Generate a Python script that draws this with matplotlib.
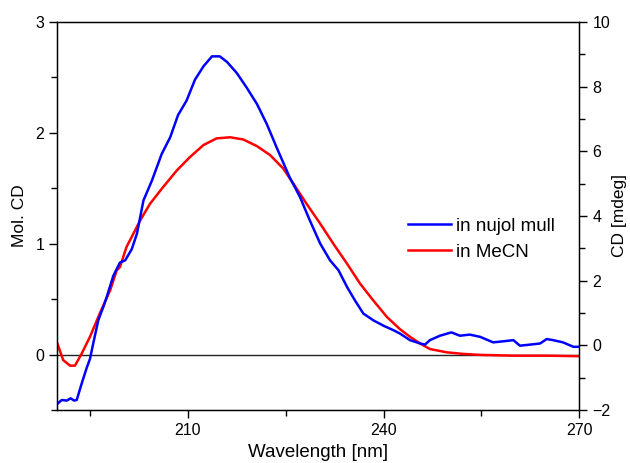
import matplotlib
matplotlib.use("Agg")
import matplotlib.pyplot as plt
from matplotlib.ticker import MultipleLocator

plt.rcParams['font.family'] = ['Liberation Sans', 'DejaVu Sans']

# Blue: in nujol mull (Mol. CD scale)
nujol_wl = [190.0, 190.67, 191.44, 192.05, 192.56, 192.97, 193.74, 194.5, 195.0, 195.5,
            196.28, 197.05, 197.57, 198.58, 199.0, 199.6, 200.4, 201.4, 202.2, 203.2,
            204.5, 206.0, 207.3, 208.5, 209.8, 211.1, 212.4, 213.7, 214.9, 216.0,
            217.5, 219.0, 220.6, 222.1, 223.6, 225.6, 227.2, 228.7, 230.3, 231.8,
            233.1, 234.4, 235.6, 236.9, 238.4, 240.0, 241.5, 242.5, 244.05, 245.6,
            246.35, 247.1, 248.65, 250.4, 251.7, 253.2, 254.8, 256.8, 258.4, 259.9,
            260.9, 262.5, 264.0, 265.0, 266.0, 267.5, 269.1, 270.0]
nujol_cd = [-0.445, -0.41, -0.415, -0.395, -0.415, -0.41, -0.26, -0.12, -0.04, 0.10,
            0.31, 0.43, 0.52, 0.71, 0.76, 0.83, 0.85, 0.95, 1.09, 1.39,
            1.57, 1.81, 1.96, 2.16, 2.29, 2.48, 2.60, 2.69, 2.69, 2.64,
            2.54, 2.41, 2.26, 2.08, 1.87, 1.60, 1.42, 1.21, 1.00, 0.85,
            0.76, 0.61, 0.49, 0.37, 0.31, 0.26, 0.22, 0.19, 0.13, 0.10,
            0.09, 0.13, 0.17, 0.20, 0.17, 0.18, 0.16, 0.11, 0.12, 0.13,
            0.08, 0.09, 0.10, 0.14, 0.13, 0.11, 0.07, 0.07]

# Red: in MeCN
mecn_wl = [190.0, 190.9, 191.95, 192.7, 193.7, 195.0, 196.5, 198.1, 199.1, 199.6,
           200.6, 202.7, 204.2, 206.2, 208.3, 210.3, 212.4, 214.4, 216.5, 218.5,
           220.6, 222.6, 224.6, 226.2, 228.2, 230.3, 232.3, 234.4, 236.4, 238.4,
           240.5, 242.5, 244.05, 245.6, 247.1, 249.7, 252.2, 254.8, 259.9, 265.0, 270.0]
mecn_cd = [0.10, -0.05, -0.10, -0.10, 0.005, 0.16, 0.37, 0.58, 0.76, 0.79,
           0.97, 1.21, 1.36, 1.51, 1.66, 1.78, 1.89, 1.95, 1.96, 1.94,
           1.88, 1.80, 1.68, 1.54, 1.36, 1.18, 1.00, 0.82, 0.64, 0.49,
           0.34, 0.23, 0.16, 0.10, 0.05, 0.02, 0.006, -0.003, -0.01, -0.01, -0.015]

x_ticks = [210, 240, 270]
left_ticks = [0, 1, 2, 3]
right_ticks = [-2, 0, 2, 4, 6, 8, 10]

fig = plt.figure(figsize=(6.30, 4.63), dpi=100)
ax = fig.add_axes([0.091, 0.1145, 0.8285, 0.838])

ax.axhline(0, color='#222222', lw=1.0, zorder=1)
ax.plot(nujol_wl, nujol_cd, color='#0000ff', lw=1.8, label='in nujol mull', zorder=3)
ax.plot(mecn_wl, mecn_cd, color='#ff0000', lw=1.8, label='in MeCN', zorder=2)

ax.set_xlim(190, 270)
ax.set_ylim(-0.5, 3)
ax.set_xticks(x_ticks)
ax.xaxis.set_minor_locator(MultipleLocator(15))
ax.set_yticks(left_ticks)
ax.yaxis.set_minor_locator(MultipleLocator(0.5))
ax.tick_params(axis='both', which='major', direction='out', length=6, width=1, labelsize=11.5, colors='black')
ax.tick_params(axis='both', which='minor', direction='out', length=4, width=1)
ax.tick_params(axis='x', which='both', top=False)
for s in ax.spines.values():
    s.set_linewidth(1.0)
ax.set_xlabel('Wavelength [nm]', fontsize=13.5, labelpad=4)
ax.set_ylabel('Mol. CD', fontsize=12.5, labelpad=6)

ax2 = ax.twinx()
ax2.set_ylim(-2, 10)
ax2.set_yticks(right_ticks)
ax2.yaxis.set_minor_locator(MultipleLocator(1))
ax2.tick_params(axis='y', which='major', direction='out', length=6, width=1, labelsize=11.5)
ax2.tick_params(axis='y', which='minor', direction='out', length=4, width=1)
ax2.set_ylabel('CD [mdeg]', fontsize=12.5, labelpad=1)

ax.legend(loc='center left', bbox_to_anchor=(0.64, 0.44), frameon=False,
          fontsize=13.5, handlelength=2.3, handletextpad=0.25, labelspacing=0.45)

fig.savefig('out.png', dpi=100)
